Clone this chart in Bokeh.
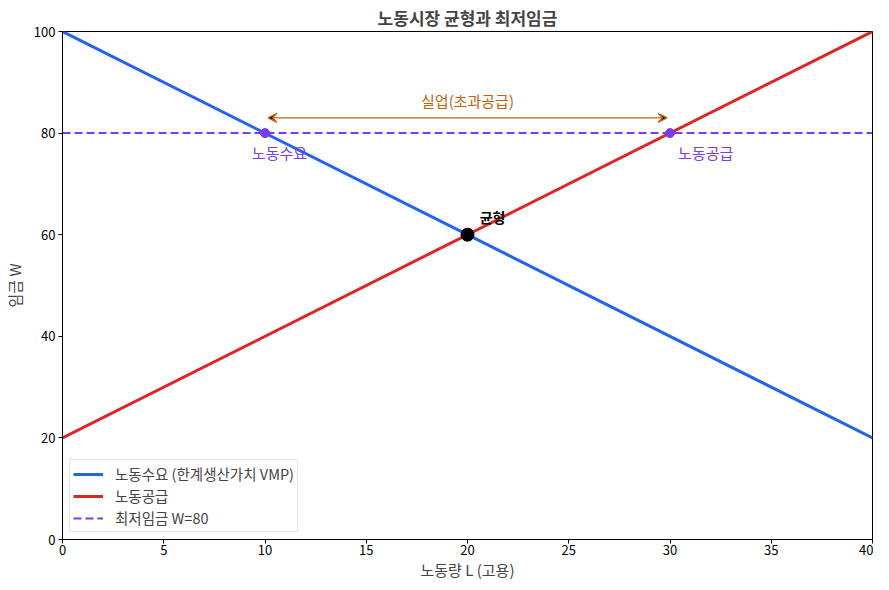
from bokeh.plotting import figure
from bokeh.models import Range1d, FixedTicker, Arrow, VeeHead, Legend, LegendItem, Label
from bokeh.embed import file_html
from bokeh.resources import INLINE

FONT = "Noto Sans CJK KR"

# data
L = [0, 40]
demand = [100, 20]
supply = [20, 100]
min_wage = 80
surplus_L = [10, 30]
eq_L, eq_W = 20, 60

BLUE = "#2563eb"
RED = "#dc2626"
PURPLE = "#7c3aed"
ORANGE = "#c2620f"

p = figure(width=873, height=582, output_backend="svg", toolbar_location=None,
           x_range=Range1d(0, 40), y_range=Range1d(0, 100),
           title="노동시장 균형과 최저임금",
           x_axis_label="노동량 L (고용)", y_axis_label="임금 W",
           min_border_left=52, min_border_right=1, min_border_top=0, min_border_bottom=0)

p.title.align = "center"
p.title.text_font = FONT
p.title.text_font_size = "17px"
p.title.text_font_style = "bold"
p.title.offset = 0
p.title.standoff = 4

p.xgrid.visible = False
p.ygrid.visible = False
p.outline_line_color = "black"
p.outline_line_width = 1

p.xaxis.ticker = FixedTicker(ticks=list(range(0, 41, 5)))
p.yaxis.ticker = FixedTicker(ticks=list(range(0, 101, 20)))
for ax in (p.xaxis, p.yaxis):
    ax.major_label_text_font = FONT
    ax.major_label_text_font_size = "13px"
    ax.major_label_text_color = "black"
    ax.axis_label_text_font = FONT
    ax.axis_label_text_font_size = "15px"
    ax.axis_label_text_font_style = "normal"
    ax.minor_tick_line_color = None
    ax.major_tick_out = 4
    ax.major_tick_in = 0
    ax.axis_line_color = "black"
p.xaxis.major_label_standoff = 1
p.xaxis.axis_label_standoff = 1
p.yaxis.major_label_standoff = 3
p.yaxis.axis_label_standoff = 6

r_d = p.line(L, demand, color=BLUE, line_width=3)
r_s = p.line(L, supply, color=RED, line_width=3)
r_m = p.line(L, [min_wage, min_wage], color=PURPLE, line_width=2, line_dash="8 4")

p.scatter(surplus_L, [min_wage, min_wage], size=9, color=PURPLE)
p.scatter([eq_L], [eq_W], size=13, color="black")

p.add_layout(Arrow(start=VeeHead(size=9, line_color=ORANGE, line_width=1.2),
                   end=VeeHead(size=9, line_color=ORANGE, line_width=1.2),
                   x_start=surplus_L[0] + 0.15, y_start=83,
                   x_end=surplus_L[1] - 0.15, y_end=83,
                   line_color=ORANGE, line_width=1.2))

def lab(x, y, text, color, align="left", baseline="middle", bold=False, size="15px"):
    p.add_layout(Label(x=x, y=y, text=text, text_color=color, text_font=FONT,
                       text_font_size=size, text_align=align, text_baseline=baseline,
                       text_font_style="bold" if bold else "normal"))

lab(20, 84.4, "실업(초과공급)", ORANGE, align="center", baseline="bottom")
lab(9.35, 76.2, "노동수요", PURPLE)
lab(30.4, 76.2, "노동공급", PURPLE)
lab(20.6, 63.5, "균형", "black", bold=True, size="14px")

legend = Legend(items=[
    LegendItem(label="노동수요 (한계생산가치 VMP)", renderers=[r_d]),
    LegendItem(label="노동공급", renderers=[r_s]),
    LegendItem(label="최저임금 W=80", renderers=[r_m]),
], location="bottom_left")
legend.label_text_font = FONT
legend.label_text_font_size = "14.5px"
legend.label_height = 18
legend.glyph_width = 30
legend.glyph_height = 18
legend.spacing = 1
legend.padding = 3
legend.margin = 7
legend.label_standoff = 12
legend.border_line_color = "#cccccc"
legend.border_line_width = 1
legend.background_fill_alpha = 0.9
p.add_layout(legend)

open("out.html", "w").write(file_html(p, INLINE))
